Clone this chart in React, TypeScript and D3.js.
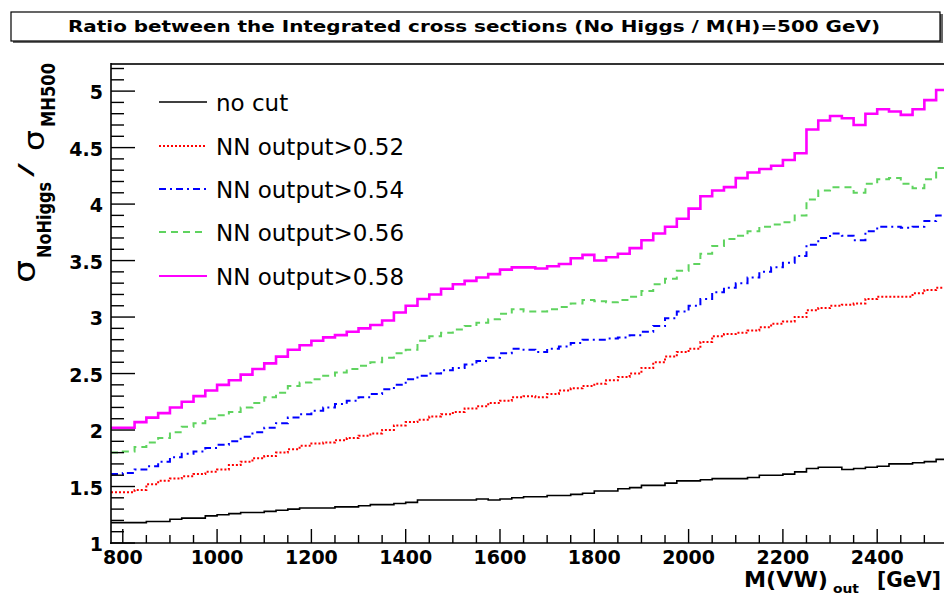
import React from "react";
import * as d3 from "d3";

// Histogram bin low edges, M(VW)_out [GeV]
const binLowEdges = [
  775, 800, 825, 850, 875, 900, 925, 950, 975, 1000, 1025, 1050, 1075, 1100, 1125, 1150, 1175, 1200,
  1225, 1250, 1275, 1300, 1325, 1350, 1375, 1400, 1425, 1450, 1475, 1500, 1525, 1550, 1575, 1600,
  1625, 1650, 1675, 1700, 1725, 1750, 1775, 1800, 1825, 1850, 1875, 1900, 1925, 1950, 1975, 2000,
  2025, 2050, 2075, 2100, 2125, 2150, 2175, 2200, 2225, 2250, 2275, 2300, 2325, 2350, 2375, 2400,
  2425, 2450, 2475, 2500, 2525, 2550,
];
const binWidth = 25;

const noCut = [
  1.18, 1.18, 1.18, 1.19, 1.19, 1.21, 1.22, 1.22, 1.24, 1.25, 1.26, 1.27, 1.27, 1.28, 1.29, 1.3, 1.31, 1.31,
  1.31, 1.32, 1.32, 1.33, 1.34, 1.34, 1.35, 1.36, 1.38, 1.38, 1.38, 1.38, 1.38, 1.39, 1.38, 1.39,
  1.4, 1.41, 1.41, 1.42, 1.42, 1.43, 1.44, 1.46, 1.46, 1.48, 1.49, 1.51, 1.51, 1.53, 1.55, 1.55,
  1.56, 1.57, 1.57, 1.57, 1.58, 1.6, 1.6, 1.61, 1.63, 1.66, 1.67, 1.67, 1.65, 1.66, 1.67, 1.68,
  1.7, 1.7, 1.71, 1.72, 1.74, 1.72,
];
const nn052 = [
  1.45, 1.45, 1.47, 1.52, 1.55, 1.57, 1.59, 1.61, 1.63, 1.65, 1.69, 1.72, 1.75, 1.77, 1.8, 1.83, 1.86, 1.88,
  1.89, 1.91, 1.93, 1.95, 1.97, 2.0, 2.04, 2.07, 2.09, 2.12, 2.14, 2.16, 2.19, 2.21, 2.24, 2.26,
  2.29, 2.3, 2.29, 2.32, 2.35, 2.37, 2.39, 2.41, 2.44, 2.47, 2.5, 2.55, 2.6, 2.65, 2.69, 2.72,
  2.78, 2.83, 2.85, 2.86, 2.88, 2.91, 2.94, 2.96, 3.0, 3.06, 3.08, 3.1, 3.11, 3.12, 3.16, 3.18,
  3.18, 3.18, 3.21, 3.24, 3.26, 3.28,
];
const nn054 = [
  1.61, 1.62, 1.65, 1.68, 1.72, 1.76, 1.79, 1.81, 1.84, 1.87, 1.9, 1.94, 1.98, 2.02, 2.06, 2.11, 2.14, 2.17,
  2.2, 2.23, 2.26, 2.29, 2.32, 2.36, 2.4, 2.45, 2.48, 2.5, 2.53, 2.55, 2.58, 2.61, 2.64, 2.68,
  2.72, 2.71, 2.69, 2.72, 2.74, 2.77, 2.8, 2.8, 2.81, 2.82, 2.84, 2.87, 2.92, 2.99, 3.05, 3.1,
  3.16, 3.22, 3.26, 3.3, 3.35, 3.4, 3.44, 3.48, 3.54, 3.64, 3.7, 3.74, 3.72, 3.68, 3.76, 3.8,
  3.8, 3.79, 3.8, 3.85, 3.9, 3.93,
];
const nn056 = [
  1.8, 1.81, 1.85, 1.89, 1.93, 1.98, 2.03, 2.06, 2.1, 2.13, 2.16, 2.2, 2.24, 2.29, 2.33, 2.39, 2.42, 2.45,
  2.48, 2.51, 2.54, 2.57, 2.6, 2.64, 2.68, 2.71, 2.79, 2.83, 2.86, 2.89, 2.92, 2.95, 2.98, 3.03,
  3.07, 3.05, 3.05, 3.07, 3.09, 3.12, 3.15, 3.14, 3.13, 3.15, 3.18, 3.23, 3.29, 3.34, 3.41, 3.47,
  3.56, 3.63, 3.69, 3.72, 3.76, 3.8, 3.82, 3.84, 3.9, 4.04, 4.12, 4.15, 4.15, 4.1, 4.18, 4.22,
  4.23, 4.18, 4.14, 4.22, 4.32, 4.37,
];
const nn058 = [
  2.02, 2.02, 2.07, 2.11, 2.15, 2.2, 2.25, 2.3, 2.35, 2.4, 2.44, 2.49, 2.54, 2.59, 2.65, 2.71, 2.75, 2.79,
  2.82, 2.84, 2.87, 2.9, 2.93, 2.97, 3.04, 3.1, 3.16, 3.2, 3.25, 3.29, 3.32, 3.35, 3.38, 3.42,
  3.44, 3.44, 3.43, 3.45, 3.47, 3.52, 3.55, 3.5, 3.53, 3.56, 3.61, 3.68, 3.74, 3.8, 3.87, 3.96,
  4.07, 4.12, 4.15, 4.23, 4.28, 4.31, 4.34, 4.39, 4.45, 4.66, 4.74, 4.78, 4.76, 4.7, 4.8, 4.84,
  4.82, 4.79, 4.84, 4.92, 5.01, 5.03,
];

const seriesLabels = ["no cut", "NN output>0.52", "NN output>0.54", "NN output>0.56", "NN output>0.58"];
const seriesValues = [noCut, nn052, nn054, nn056, nn058];
const seriesColors = ["#000000", "#ff0000", "#0000ff", "#5fd35f", "#ff00ff"];
const seriesDash = [null, "2,2", "7,4,2,4", "7,5", null];
const seriesWidth = [1.6, 2, 2, 2, 2.6];

const xMajorTicks = [800, 1000, 1200, 1400, 1600, 1800, 2000, 2200, 2400, 2600];
const xTickLabels = ["800", "1000", "1200", "1400", "1600", "1800", "2000", "2200", "2400"];
const yMajorTicks = [1, 1.5, 2, 2.5, 3, 3.5, 4, 4.5, 5];
const yTickLabels = ["1", "1.5", "2", "2.5", "3", "3.5", "4", "4.5", "5"];

const titleText = "Ratio between the Integrated cross sections (No Higgs / M(H)=500 GeV)";

export default function App() {
  const W = 944;
  const H = 598;
  const x = d3.scaleLinear().domain([775, 2600]).range([111, 971.5]);
  const y = d3.scaleLinear().domain([1, 5.24]).range([543, 64]);

  const line = d3
    .line<[number, number]>()
    .x((d) => x(d[0]))
    .y((d) => y(d[1]))
    .curve(d3.curveStepAfter);

  const pathFor = (vals: number[]) => {
    const pts: [number, number][] = binLowEdges.map((e, i) => [e, vals[i]]);
    pts.push([binLowEdges[binLowEdges.length - 1] + binWidth, vals[vals.length - 1]]);
    return line(pts) || "";
  };

  const xMinor = d3.range(800, 2601, 50).filter((v) => v % 200 !== 0);
  const yMinor = d3.range(11, 53, 1).map((v) => v / 10).filter((v) => Math.abs(v * 2 - Math.round(v * 2)) > 1e-6);

  const font = "'DejaVu Sans', 'Liberation Sans', Arial, sans-serif";
  const legendY = [102, 146, 189, 232, 276];

  return (
    <svg width={W} height={H} style={{ position: "absolute", left: 0, top: 0, background: "#fff" }} fontFamily={font}>
      <rect x={0} y={0} width={W} height={H} fill="#fff" />
      {/* title box */}
      <rect x={13} y={14} width={930} height={29} fill="#666" />
      <rect x={11} y={12} width={929} height={29} fill="#fff" stroke="#000" strokeWidth={1.2} />
      <text x={474} y={32} textAnchor="middle" fontSize={15} fontWeight="bold" textLength={812} lengthAdjust="spacingAndGlyphs">
        {titleText}
      </text>

      <defs>
        <clipPath id="plotClip">
          <rect x={111} y={64} width={861} height={479} />
        </clipPath>
      </defs>

      {/* series */}
      <g clipPath="url(#plotClip)">
        {seriesValues.map((vals, i) => (
          <path
            key={i}
            d={pathFor(vals)}
            fill="none"
            stroke={seriesColors[i]}
            strokeWidth={seriesWidth[i]}
            strokeDasharray={seriesDash[i] || undefined}
          />
        ))}
      </g>

      {/* frame */}
      <line x1={111} y1={64} x2={W} y2={64} stroke="#333" strokeWidth={2} />
      <line x1={111} y1={63} x2={111} y2={544} stroke="#000" strokeWidth={1.6} />
      <line x1={110} y1={543} x2={W} y2={543} stroke="#000" strokeWidth={1.6} />

      {/* x ticks */}
      {xMajorTicks.map((t) => (
        <line key={"xM" + t} x1={x(t)} x2={x(t)} y1={543} y2={529} stroke="#000" strokeWidth={1.4} />
      ))}
      {xMinor.map((t) => (
        <line key={"xm" + t} x1={x(t)} x2={x(t)} y1={543} y2={535} stroke="#000" strokeWidth={1.4} />
      ))}
      {xTickLabels.map((lab, i) => (
        <text key={"xl" + lab} x={x(xMajorTicks[i])} y={564} textAnchor="middle" fontSize={19} fontWeight="bold">
          {lab}
        </text>
      ))}

      {/* y ticks */}
      {yMajorTicks.map((t) => (
        <line key={"yM" + t} x1={111} x2={135} y1={y(t)} y2={y(t)} stroke="#000" strokeWidth={1.4} />
      ))}
      {yMinor.map((t) => (
        <line key={"ym" + t} x1={111} x2={124} y1={y(t)} y2={y(t)} stroke="#000" strokeWidth={1.4} />
      ))}
      {yMajorTicks.map((t, i) => (
        <text key={"yl" + t} x={103} y={y(t) + 8} textAnchor="end" fontSize={19} fontWeight="bold">
          {yTickLabels[i]}
        </text>
      ))}

      {/* y axis title */}
      <g transform="translate(0,283) rotate(-90)" fontWeight="bold">
        <text x={0} y={35} fontSize={30} fontWeight="normal" textLength={23} lengthAdjust="spacingAndGlyphs">σ</text>
        <text x={25} y={51} fontSize={20} textLength={76} lengthAdjust="spacingAndGlyphs">NoHiggs</text>
        <text x={106} y={32} fontSize={20} fontWeight="normal" textLength={14} lengthAdjust="spacingAndGlyphs">/</text>
        <text x={132} y={44} fontSize={28} fontWeight="normal" textLength={21} lengthAdjust="spacingAndGlyphs">σ</text>
        <text x={156} y={55} fontSize={20} textLength={64} lengthAdjust="spacingAndGlyphs">MH500</text>
      </g>

      {/* x axis title */}
      <text x={744} y={587} fontSize={21} fontWeight="bold" textLength={84} lengthAdjust="spacingAndGlyphs">M(VW)</text>
      <text x={833} y={593} fontSize={12} fontWeight="bold" textLength={26} lengthAdjust="spacingAndGlyphs">out</text>
      <text x={877} y={587} fontSize={21} fontWeight="bold" textLength={64} lengthAdjust="spacingAndGlyphs">[GeV]</text>

      {/* legend */}
      {seriesLabels.map((lab, i) => (
        <g key={"lg" + i}>
          <line
            x1={159}
            x2={207}
            y1={legendY[i]}
            y2={legendY[i]}
            stroke={seriesColors[i]}
            strokeWidth={i === 0 ? 1.6 : 2}
            strokeDasharray={seriesDash[i] || undefined}
          />
          <text x={216} y={legendY[i] + 9} fontSize={23}>
            {lab}
          </text>
        </g>
      ))}
    </svg>
  );
}
